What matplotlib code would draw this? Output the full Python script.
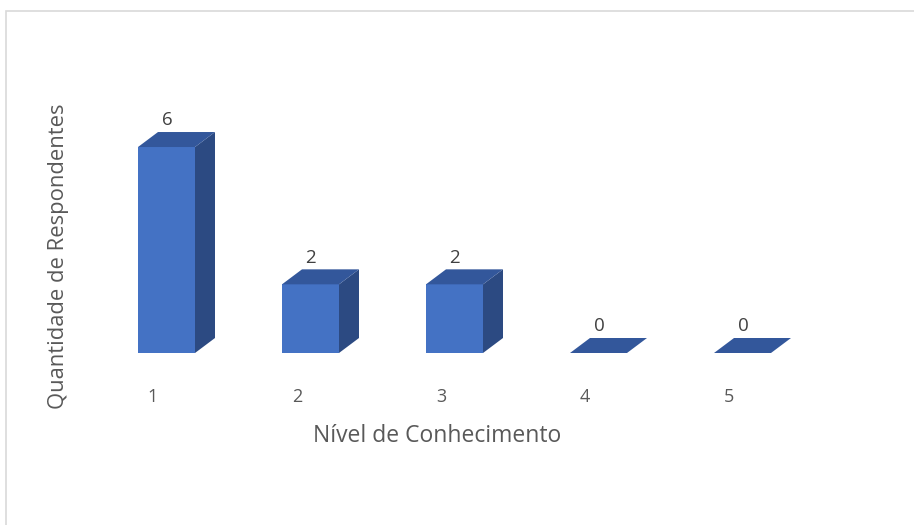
import matplotlib
matplotlib.use("Agg")
import matplotlib.pyplot as plt
from matplotlib.patches import Polygon, Rectangle

categories = ["1", "2", "3", "4", "5"]
values = [6, 2, 2, 0, 0]
xlabel = "Nível de Conhecimento"
ylabel = "Quantidade de Respondentes"

W, H = 914, 525
fig = plt.figure(figsize=(W / 100, H / 100), dpi=100)
ax = fig.add_axes([0, 0, 1, 1])
ax.set_axis_off()

# scales: 144 px per category, 34.33 px per unit
px_x, px_y = 144.0, 34.33
x0 = 1 - 166.5 / px_x
y0 = -172.0 / px_y
ax.set_xlim(x0, x0 + W / px_x)
ax.set_ylim(y0, y0 + H / px_y)

half = 28.5 / px_x
dx = 20.0 / px_x
dy = 15.0 / px_y

front_c = "#4472C4"
side_c = "#2C4A82"
top_c = "#33579B"

for i, (cat, v) in enumerate(zip(categories, values)):
    x = i + 1
    l, r = x - half, x + half
    if v > 0:
        ax.add_patch(Polygon([(r, 0), (r + dx, dy), (r + dx, v + dy), (r, v)],
                             closed=True, fc=side_c, ec="none"))
        ax.add_patch(Polygon([(l, 0), (r, 0), (r, v), (l, v)],
                             closed=True, fc=front_c, ec="none"))
    ax.add_patch(Polygon([(l, v), (r, v), (r + dx, v + dy), (l + dx, v + dy)],
                         closed=True, fc=top_c, ec="none"))
    ax.text(x + 0.003, v + dy + 0.08, str(v), ha="center", va="bottom",
            fontsize=13.5, color="#404040", family="Open Sans")
    ax.text(x - 0.094, -1.27, cat, ha="center", va="center",
            fontsize=13, color="#595959", family="Open Sans")

fig.text(437 / W, 1 - 436 / H, xlabel, ha="center", va="center",
         fontsize=16.5, color="#595959", family="Open Sans")
fig.text(59 / W, 1 - 256 / H, ylabel, ha="center", va="center", rotation=90,
         fontsize=15.8, color="#595959", family="Open Sans")

fig.patches.append(Rectangle((5.5 / W, -0.1), 1.2, 1 - 10.5 / H + 0.1,
                             transform=fig.transFigure, fill=False,
                             ec="#D9D9D9", lw=1.2))

fig.savefig("out.png", dpi=100)
